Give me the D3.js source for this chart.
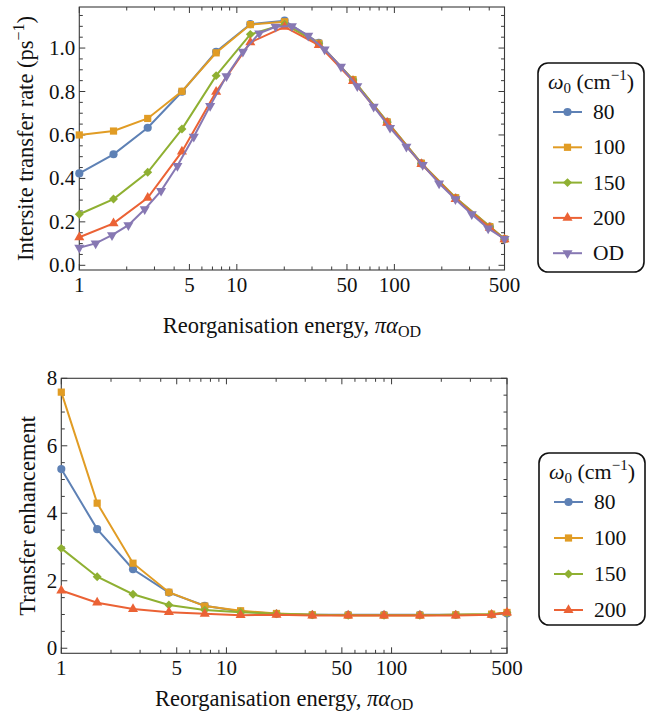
<!DOCTYPE html>
<html>
<head>
    <meta charset="utf-8">
    <script src="https://cdn.jsdelivr.net/npm/d3@7"></script>
    <style type="text/css">
        body { margin: 0; background: #fff; }
    </style>
</head>
<body>
<script type="text/javascript">
    // reorganisation energy grid (pi * alpha_OD)
    var xMain = [1, 1.649, 2.718, 4.482, 7.389, 12.18, 20.09, 33.12, 54.60, 90.02, 148.4, 244.7, 403.4, 500];
    var xOD = [1, 1.270, 1.613, 2.049, 2.602, 3.304, 4.196, 5.329, 6.768, 8.596, 10.92, 13.87, 17.61, 22.36,
               28.40, 36.07, 45.80, 58.17, 73.88, 93.83, 119.2, 151.3, 192.2, 244.1, 310.0, 393.7, 500];

    // intersite transfer rate (ps^-1)
    var rate80  = [0.423, 0.511, 0.633, 0.799, 0.983, 1.110, 1.126, 1.024, 0.853, 0.661, 0.469, 0.311, 0.178, 0.121];
    var rate100 = [0.600, 0.618, 0.676, 0.801, 0.978, 1.108, 1.121, 1.022, 0.855, 0.660, 0.470, 0.311, 0.178, 0.121];
    var rate150 = [0.235, 0.305, 0.428, 0.627, 0.873, 1.063, 1.110, 1.020, 0.853, 0.658, 0.468, 0.309, 0.176, 0.120];
    var rate200 = [0.129, 0.193, 0.311, 0.523, 0.799, 1.026, 1.098, 1.014, 0.848, 0.656, 0.466, 0.305, 0.173, 0.119];
    var rateOD  = [0.081, 0.101, 0.139, 0.185, 0.258, 0.343, 0.458, 0.592, 0.734, 0.871, 0.983, 1.068, 1.098, 1.101,
                   1.057, 0.994, 0.914, 0.825, 0.730, 0.633, 0.546, 0.462, 0.377, 0.304, 0.235, 0.170, 0.121];

    // transfer enhancement (rate / OD rate)
    var enh80  = [5.31, 3.53, 2.34, 1.65, 1.26, 1.09, 1.02, 0.99, 0.99, 0.99, 0.99, 0.99, 1.00, 1.03];
    var enh100 = [7.59, 4.30, 2.52, 1.66, 1.25, 1.11, 1.03, 0.99, 0.98, 0.98, 0.98, 0.99, 1.01, 1.06];
    var enh150 = [2.96, 2.12, 1.60, 1.28, 1.13, 1.07, 1.02, 0.99, 0.98, 0.98, 0.98, 0.99, 1.01, 1.05];
    var enh200 = [1.71, 1.35, 1.16, 1.07, 1.02, 0.98, 0.99, 0.97, 0.97, 0.97, 0.97, 0.97, 0.99, 1.06];

    var seriesNames = ["80", "100", "150", "200", "OD"];
    var xMajor = [1, 5, 10, 50, 100, 500];
    var xMinor = [2, 3, 4, 6, 7, 8, 9, 20, 30, 40, 60, 70, 80, 90, 200, 300, 400];

    var colors = ["#5e81b5", "#e19c24", "#8fb032", "#eb6235", "#8778b3"];
    var shapes = [
        {type: d3.symbolCircle, size: 52, rot: 0},
        {type: d3.symbolSquare, size: 52, rot: 0},
        {type: d3.symbolSquare, size: 40, rot: 45},
        {type: d3.symbolTriangle, size: 44, rot: 0},
        {type: d3.symbolTriangle, size: 44, rot: 180}
    ];

    var FONT = "Liberation Serif";

    var svg = d3.select("body").append("svg").attr("width", 652).attr("height", 715);

    function txt(sel, size) {
        return sel.attr("font-family", FONT).attr("font-size", size).attr("fill", "#111");
    }

    function drawPanel(p) {
        var x = d3.scaleLog().domain([1, 500]).range([p.left, p.right]);
        var y = d3.scaleLinear().domain(p.yDomain).range([p.bottom, p.top]);
        var g = svg.append("g");

        // frame
        g.append("rect").attr("x", p.left).attr("y", p.top)
            .attr("width", p.right - p.left).attr("height", p.bottom - p.top)
            .attr("fill", "none").attr("stroke", "#3a3a3a").attr("stroke-width", 1.1);

        // x ticks (inward, bottom + top)
        function xt(v, len) {
            g.append("line").attr("x1", x(v)).attr("x2", x(v)).attr("y1", p.bottom).attr("y2", p.bottom - len)
                .attr("stroke", "#3a3a3a");
            g.append("line").attr("x1", x(v)).attr("x2", x(v)).attr("y1", p.top).attr("y2", p.top + len)
                .attr("stroke", "#3a3a3a");
        }
        xMajor.forEach(function(v) { xt(v, 6); });
        xMinor.forEach(function(v) { xt(v, 3.5); });

        function yt(v, len) {
            g.append("line").attr("x1", p.left).attr("x2", p.left + len).attr("y1", y(v)).attr("y2", y(v))
                .attr("stroke", "#3a3a3a");
            g.append("line").attr("x1", p.right).attr("x2", p.right - len).attr("y1", y(v)).attr("y2", y(v))
                .attr("stroke", "#3a3a3a");
        }
        p.yMajor.forEach(function(v) { yt(v, 6); });
        p.yMinor.forEach(function(v) { yt(v, 3.5); });

        // tick labels
        txt(g.selectAll(".xl").data(xMajor).enter().append("text"), 21)
            .attr("x", function(d) { return x(d); }).attr("y", p.bottom + 22)
            .attr("text-anchor", "middle")
            .text(function(d) { return d; });
        txt(g.selectAll(".yl").data(p.yMajor).enter().append("text"), 21)
            .attr("x", p.left - 4).attr("y", function(d) { return y(d) + 7; })
            .attr("text-anchor", "end")
            .text(function(d) { return p.yFmt(d); });

        // x axis title
        var xl = txt(g.append("text"), 22.5).attr("x", (p.left + p.right) / 2).attr("y", p.bottom + p.xTitleDy)
            .attr("text-anchor", "middle");
        xl.append("tspan").text("Reorganisation energy, ");
        xl.append("tspan").attr("font-style", "italic").text("πα");
        xl.append("tspan").attr("dy", 4).attr("font-size", 16).text("OD");

        // y axis title
        var yl = txt(g.append("text"), 22.5)
            .attr("transform", "translate(" + p.yTitleX + "," + (p.top + p.bottom) / 2 + ") rotate(-90)")
            .attr("text-anchor", "middle");
        yl.append("tspan").text(p.yTitle);
        if (p.yTitleSup) {
            yl.append("tspan").text("ps");
            yl.append("tspan").attr("dy", -9).attr("font-size", 16).text("−1");
            yl.append("tspan").attr("dy", 9).text(")");
        }

        // series
        var line = d3.line().x(function(d) { return x(d[0]); }).y(function(d) { return y(d[1]); });
        p.series.forEach(function(s, i) {
            var pts = s.xs.map(function(v, j) { return [v, s.ys[j]]; });
            g.append("path").datum(pts).attr("d", line)
                .attr("fill", "none").attr("stroke", colors[i]).attr("stroke-width", 2);
            var sh = shapes[i];
            g.selectAll(null).data(pts).enter().append("path")
                .attr("d", d3.symbol().type(sh.type).size(sh.size))
                .attr("transform", function(d) {
                    return "translate(" + x(d[0]) + "," + y(d[1]) + ") rotate(" + sh.rot + ")";
                })
                .attr("fill", colors[i]);
        });

        // legend
        var L = p.legend;
        g.append("rect").attr("x", L.x).attr("y", L.y).attr("width", L.w).attr("height", L.h)
            .attr("rx", 10).attr("ry", 10)
            .attr("fill", "#fff").attr("stroke", "#111").attr("stroke-width", 1.6);
        var lt = txt(g.append("text"), 22).attr("x", L.x + L.w / 2).attr("y", L.y + 26)
            .attr("text-anchor", "middle");
        lt.append("tspan").attr("font-style", "italic").text("ω");
        lt.append("tspan").attr("dy", 4).attr("font-size", 15).text("0");
        lt.append("tspan").attr("dy", -4).text(" (cm");
        lt.append("tspan").attr("dy", -9).attr("font-size", 15).text("−1");
        lt.append("tspan").attr("dy", 9).text(")");
        p.series.forEach(function(s, i) {
            var ly = L.y + L.first + i * L.step;
            g.append("line").attr("x1", L.x + 15).attr("x2", L.x + 44).attr("y1", ly).attr("y2", ly)
                .attr("stroke", colors[i]).attr("stroke-width", 2);
            g.append("path").attr("d", d3.symbol().type(shapes[i].type).size(shapes[i].size))
                .attr("transform", "translate(" + (L.x + 29.5) + "," + ly + ") rotate(" + shapes[i].rot + ")")
                .attr("fill", colors[i]);
            txt(g.append("text"), 21.5).attr("x", L.x + 55).attr("y", ly + 7)
                .text(seriesNames[i]);
        });
    }

    drawPanel({
        left: 79.3, right: 504.5, top: 7, bottom: 270,
        yDomain: [-0.0216, 1.189],
        yMajor: [0, 0.2, 0.4, 0.6, 0.8, 1.0],
        yMinor: [0.05, 0.1, 0.15, 0.25, 0.3, 0.35, 0.45, 0.5, 0.55, 0.65, 0.7, 0.75, 0.85, 0.9, 0.95, 1.05, 1.1, 1.15],
        yFmt: d3.format(".1f"),
        yTitle: "Intersite transfer rate (",
        yTitleSup: true,
        yTitleX: 33,
        xTitleDy: 63,
        series: [
            {xs: xMain, ys: rate80},
            {xs: xMain, ys: rate100},
            {xs: xMain, ys: rate150},
            {xs: xMain, ys: rate200},
            {xs: xOD, ys: rateOD}
        ],
        legend: {x: 538, y: 63, w: 106, h: 209, first: 49, step: 35.3}
    });

    drawPanel({
        left: 61.3, right: 507, top: 378.3, bottom: 653.3,
        yDomain: [-0.15, 8],
        yMajor: [0, 2, 4, 6, 8],
        yMinor: [0.5, 1, 1.5, 2.5, 3, 3.5, 4.5, 5, 5.5, 6.5, 7, 7.5],
        yFmt: d3.format("d"),
        yTitle: "Transfer enhancement",
        yTitleSup: false,
        yTitleX: 35,
        xTitleDy: 53,
        series: [
            {xs: xMain, ys: enh80},
            {xs: xMain, ys: enh100},
            {xs: xMain, ys: enh150},
            {xs: xMain, ys: enh200}
        ],
        legend: {x: 539, y: 453, w: 106, h: 172, first: 49, step: 36}
    });
</script>
</body>
</html>
